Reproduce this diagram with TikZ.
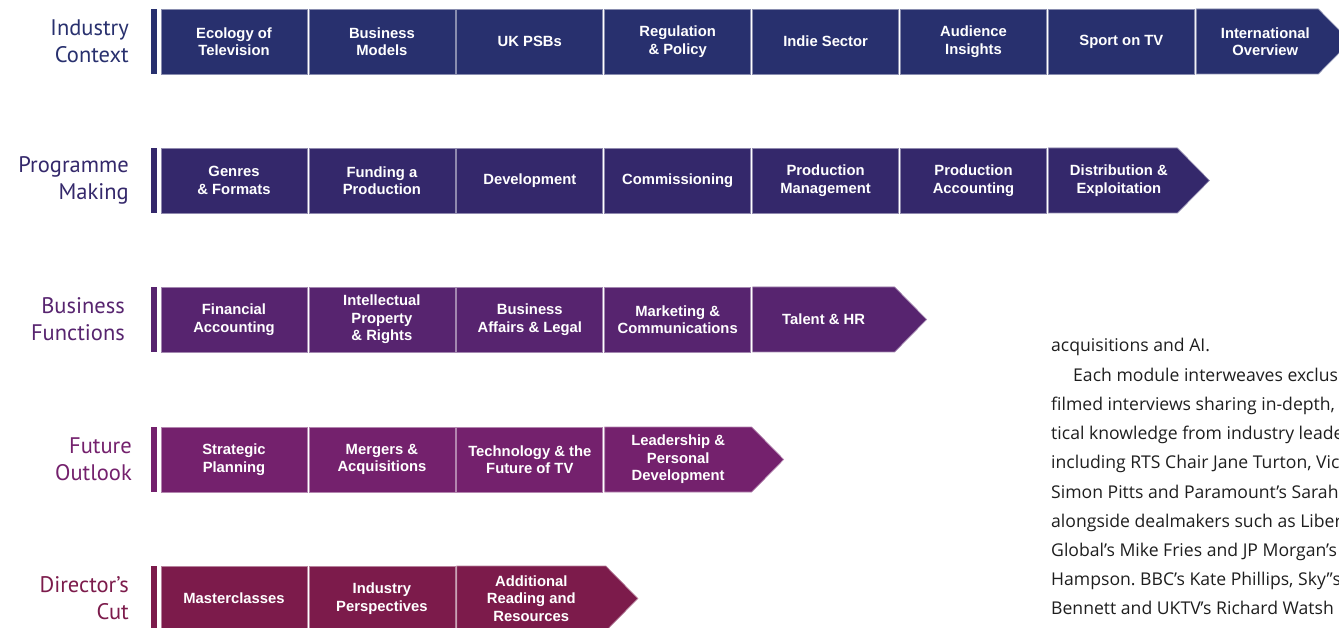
\documentclass[tikz,border=0pt]{standalone}
\usepackage{fontspec}
\setmainfont{Liberation Sans}
\newfontfamily\labelfont{PT Sans}
\newfontfamily\bodyfont{Open Sans}
\usetikzlibrary{positioning,backgrounds}
\frenchspacing

\definecolor{ctxcol}{HTML}{28306E}
\definecolor{progcol}{HTML}{34286B}
\definecolor{funccol}{HTML}{57246F}
\definecolor{futcol}{HTML}{74216D}
\definecolor{cutcol}{HTML}{7C1B4B}
\definecolor{bodytext}{HTML}{1E1E1E}

\tikzset{
  module/.style={draw=#1!55!white, fill=#1, text=white, line width=0.7pt,
    minimum width=146pt, minimum height=65pt, inner sep=0pt, outer sep=0pt,
    align=center, font=\bfseries\fontsize{14.8}{17.5}\selectfont},
  lastmodule/.style={module=#1, draw=none, fill=none},
  tipshape/.style={draw=#1!55!white, fill=#1, line width=0.7pt},
  bar/.style={fill=#1, minimum width=6pt, minimum height=65pt, inner sep=0pt, outer sep=0pt},
  rowlabel/.style={text=#1, anchor=east, align=right, inner sep=0pt,
    font=\labelfont\fontsize{22.5}{27}\selectfont},
  bodyline/.style={anchor=base west, inner sep=0pt, text=bodytext,
    font=\bodyfont\fontsize{17.6}{20}\selectfont}
}

\begin{document}
\begin{tikzpicture}[x=1pt,y=-1pt]
  \useasboundingbox (0,0) rectangle (1339,628);

  % industry context
  \node[rowlabel=ctxcol] (lab1) at (129,41.5) {Industry\\Context};
  \node[bar=ctxcol] (bar1) at (154,41.5) {};
  \node[module=ctxcol, right=4pt of bar1] (m1a) {Ecology of\\Television};
  \node[module=ctxcol, right=1.9pt of m1a] (m1b) {Business\\Models};
  \node[module=ctxcol, right=1.9pt of m1b] (m1c) {UK PSBs};
  \node[module=ctxcol, right=1.9pt of m1c] (m1d) {Regulation\\\& Policy};
  \node[module=ctxcol, right=1.9pt of m1d] (m1e) {Indie Sector};
  \node[module=ctxcol, right=1.9pt of m1e] (m1f) {Audience\\Insights};
  \node[module=ctxcol, right=1.9pt of m1f] (m1g) {Sport on TV};
  \node[lastmodule=ctxcol, minimum width=122pt, right=1.9pt of m1g] (m1h) {\hspace*{16pt}International\\\hspace*{16pt}Overview};

  % programme making
  \node[rowlabel=progcol] (lab2) at (129,180.5) {Programme\\Making};
  \node[bar=progcol] (bar2) at (154,180.5) {};
  \node[module=progcol, right=4pt of bar2] (m2a) {Genres\\\& Formats};
  \node[module=progcol, right=1.9pt of m2a] (m2b) {Funding a\\Production};
  \node[module=progcol, right=1.9pt of m2b] (m2c) {Development};
  \node[module=progcol, right=1.9pt of m2c] (m2d) {Commissioning};
  \node[module=progcol, right=1.9pt of m2d] (m2e) {Production\\Management};
  \node[module=progcol, right=1.9pt of m2e] (m2f) {Production\\Accounting};
  \node[lastmodule=progcol, minimum width=129pt, right=1.9pt of m2f] (m2g) {\hspace*{12pt}Distribution \&\\\hspace*{12pt}Exploitation};

  % business functions
  \node[rowlabel=funccol] (lab3) at (125,319.5) {Business\\Functions};
  \node[bar=funccol] (bar3) at (154,319.5) {};
  \node[module=funccol, right=4pt of bar3] (m3a) {Financial\\Accounting};
  \node[module=funccol, right=1.9pt of m3a] (m3b) {Intellectual\\Property\\\& Rights};
  \node[module=funccol, right=1.9pt of m3b] (m3c) {Business\\Affairs \& Legal};
  \node[module=funccol, right=1.9pt of m3c] (m3d) {Marketing \&\\Communications};
  \node[lastmodule=funccol, minimum width=142pt, right=1.9pt of m3d] (m3e) {Talent \& HR};

  % future outlook
  \node[rowlabel=futcol] (lab4) at (132,459.5) {Future\\Outlook};
  \node[bar=futcol] (bar4) at (154,459.5) {};
  \node[module=futcol, right=4pt of bar4] (m4a) {Strategic\\Planning};
  \node[module=futcol, right=1.9pt of m4a] (m4b) {Mergers \&\\Acquisitions};
  \node[module=futcol, right=1.9pt of m4b] (m4c) {Technology \& the\\Future of TV};
  \node[lastmodule=futcol, minimum width=147pt, right=1.9pt of m4c] (m4d) {Leadership \&\\Personal\\Development};

  % director's cut
  \node[rowlabel=cutcol] (lab5) at (129,598.5) {Director’s\\Cut};
  \node[bar=cutcol] (bar5) at (154,598.5) {};
  \node[module=cutcol, right=4pt of bar5] (m5a) {Masterclasses};
  \node[module=cutcol, right=1.9pt of m5a] (m5b) {Industry\\Perspectives};
  \node[lastmodule=cutcol, minimum width=149pt, right=1.9pt of m5b] (m5c) {Additional\\Reading and\\Resources};

  % arrow ends of the rows
  \begin{scope}[on background layer]
    \foreach \n/\c in {m1h/ctxcol, m2g/progcol, m3e/funccol, m4d/futcol, m5c/cutcol}
      \draw[tipshape=\c] (\n.north west) -- (\n.north east) -- ++(32,32.5)
        -- (\n.south east) -- (\n.south west) -- cycle;
  \end{scope}

  % text column
  \foreach \t/\dx [count=\i] in {
      {acquisitions and AI.}/0,
      {Each module interweaves exclus}/22,
      {filmed interviews sharing in-depth,}/0,
      {tical knowledge from industry leade}/0,
      {including RTS Chair Jane Turton, Vice}/0,
      {Simon Pitts and Paramount’s Sarah}/0,
      {alongside dealmakers such as Liber}/0,
      {Global’s Mike Fries and JP Morgan’s}/0,
      {Hampson. BBC’s Kate Phillips, Sky”s}/0,
      {Bennett and UKTV’s Richard Watsh}/0}
    \node[bodyline] (para\i) at ({1051+\dx},{352+(\i-1)*29.2}) {\t};
\end{tikzpicture}
\end{document}
